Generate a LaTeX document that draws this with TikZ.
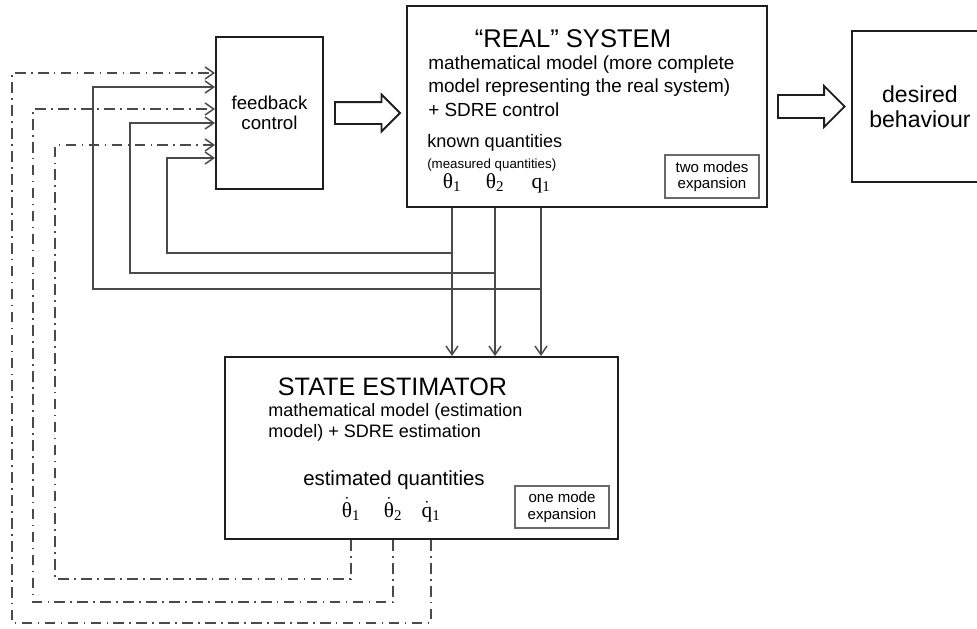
\documentclass[tikz,border=0pt]{standalone}
\usepackage{fontspec}
\setmainfont{Liberation Sans}
\newfontfamily\qtyfont{Liberation Serif}
\usetikzlibrary{positioning,arrows.meta,shapes.arrows}

\definecolor{boxline}{HTML}{1E1E1E}
\definecolor{wireline}{HTML}{4A4A4A}
\definecolor{tagline}{HTML}{6A6A6A}

% dotted (estimated) quantity
\newcommand\estq[2]{$\dot{\mbox{\qtyfont #1}}$\textsubscript{#2}}

\tikzset{
  block/.style={draw=boxline, line width=1.5pt, inner sep=0pt},
  tagbox/.style={draw=tagline, line width=0.8pt, align=center, inner sep=0pt,
    font=\fontsize{11.3}{12.2}\selectfont},
  bigarrow/.style={single arrow, draw=boxline, line width=1.4pt,
    single arrow tip angle=90, inner xsep=0pt},
  sig/.style={draw=wireline, line width=1.1pt,
    -{Straight Barb[length=6.5pt,width=9pt,line width=1.1pt]}},
  estsig/.style={sig, dash pattern=on 8pt off 4pt on 1.2pt off 4pt},
  qty/.style={anchor=base, inner sep=0pt, font=\fontsize{16}{18}\qtyfont},
}

\begin{document}
\begin{tikzpicture}[x=0.75pt, y=-0.75pt]
  \clip (0,0) rectangle (977,628);

  % boxes
  \node[block, minimum width=80.25pt, minimum height=114pt, align=center,
        font=\fontsize{14}{15}\selectfont] (fb) at (269.5,113) {feedback\\control};
  \node[bigarrow, inner ysep=7.5pt, single arrow head extend=5.6pt,
        minimum height=48.75pt, right=7.5pt of fb] (ar1) {};
  \node[block, minimum width=270pt, minimum height=150.75pt] (real) at (587,106.5) {};
  \node[bigarrow, inner ysep=7.9pt, single arrow head extend=6.75pt,
        minimum height=50pt, right=6.75pt of real] (ar2) {};
  \node[block, minimum width=102pt, minimum height=113.25pt, align=center,
        font=\fontsize{17.3}{18.75}\selectfont, right=3.75pt of ar2] (des) {desired\\behaviour};
  \node[block, minimum width=294.75pt, minimum height=136.5pt] (est) at (421.5,448) {};

  % real system texts
  \node[anchor=base, inner sep=0pt, font=\fontsize{19.2}{22}\selectfont] (realhead)
    at (573,47) {“REAL” SYSTEM};
  \node[anchor=base west, inner sep=0pt, align=left,
        font=\fontsize{14.2}{17.6}\selectfont] (realtext)
    at (428,116) {mathematical model (more complete\\model representing the real system)\\+ SDRE control};
  \node[anchor=base west, inner sep=0pt, font=\fontsize{13.6}{16}\selectfont] (known)
    at (427,147) {known quantities};
  \node[anchor=base west, inner sep=0pt, font=\fontsize{10}{12}\selectfont] (measured)
    at (427,168) {(measured quantities)};
  \node[qty] (th1) at (452,188) {θ\textsubscript{1}};
  \node[qty] (th2) at (495,188) {θ\textsubscript{2}};
  \node[qty] (qq1) at (541,188) {q\textsubscript{1}};
  \node[tagbox, minimum width=70.5pt, minimum height=32.25pt] (twomodes)
    at (712,176.5) {two modes\\expansion};

  % estimator texts
  \node[anchor=base, inner sep=0pt, font=\fontsize{18.9}{22}\selectfont] (esthead)
    at (392.5,395) {STATE ESTIMATOR};
  \node[anchor=base west, inner sep=0pt, align=left,
        font=\fontsize{13.5}{15.75}\selectfont] (esttext)
    at (268,437) {mathematical model (estimation\\model) + SDRE estimation};
  \node[anchor=base west, inner sep=0pt, font=\fontsize{15.3}{18}\selectfont] (estimated)
    at (303,485) {estimated quantities};
  \node[qty] (dth1) at (351,517) {\estq{θ}{1}};
  \node[qty] (dth2) at (393,517) {\estq{θ}{2}};
  \node[qty] (dq1) at (431,517) {\estq{q}{1}};
  \node[tagbox, minimum width=70.5pt, minimum height=31.5pt] (onemode)
    at (562,507) {one mode\\expansion};

  % measured signals down to the estimator and back to the controller
  \foreach \q in {th1,th2,qq1}
    \draw[sig] (\q |- real.south) -- (\q |- est.north);
  \foreach \q/\lev/\xl/\yin in {th1/253/167/158, th2/273/130/123, qq1/289/93/87}
    \draw[sig] (\q |- 0,\lev) -| (\xl,\yin) -- (fb.west |- 0,\yin);

  % estimated signals back to the controller
  \foreach \q/\lev/\xl/\yin in {dth1/579/55/145, dth2/602/33/109, dq1/623/12/73}
    \draw[estsig] (\q |- est.south) |- (\xl,\lev) |- (fb.west |- 0,\yin);
\end{tikzpicture}
\end{document}
